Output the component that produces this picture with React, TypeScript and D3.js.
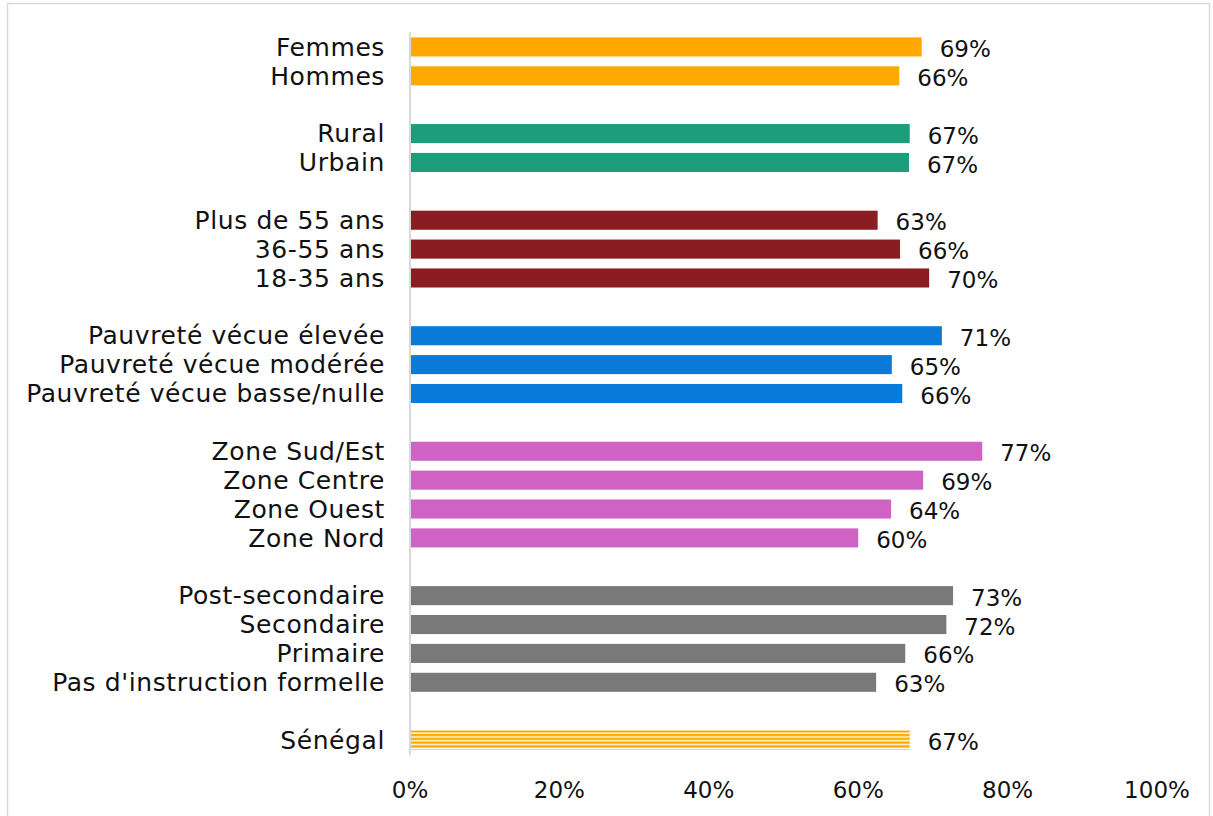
import React from "react";
import * as d3 from "d3";

const categories = [
  "Femmes", "Hommes", "",
  "Rural", "Urbain", " ",
  "Plus de 55 ans", "36-55 ans", "18-35 ans", "  ",
  "Pauvreté vécue élevée", "Pauvreté vécue modérée", "Pauvreté vécue basse/nulle", "   ",
  "Zone Sud/Est", "Zone Centre", "Zone Ouest", "Zone Nord", "    ",
  "Post-secondaire", "Secondaire", "Primaire", "Pas d'instruction formelle", "     ",
  "Sénégal",
];
const values: (number | null)[] = [
  68.5, 65.5, null,
  66.9, 66.8, null,
  62.6, 65.6, 69.5, null,
  71.2, 64.5, 65.9, null,
  76.6, 68.7, 64.4, 60.0, null,
  72.7, 71.8, 66.3, 62.4, null,
  66.9,
];
const labels = [
  "69%", "66%", "",
  "67%", "67%", "",
  "63%", "66%", "70%", "",
  "71%", "65%", "66%", "",
  "77%", "69%", "64%", "60%", "",
  "73%", "72%", "66%", "63%", "",
  "67%",
];
const groupColors = ["#FFA800", "#1C9E7C", "#8A1C22", "#0A7AD9", "#D062C4", "#797979", "url(#stripes)"];
const groupOf = [0, 0, -1, 1, 1, -1, 2, 2, 2, -1, 3, 3, 3, -1, 4, 4, 4, 4, -1, 5, 5, 5, 5, -1, 6];
const ticks = [0, 20, 40, 60, 80, 100];

export default function App() {
  const W = 1213, H = 816;
  const x = d3.scaleLinear().domain([0, 100]).range([410, 1157]);
  const y = d3.scaleBand().domain(categories).range([32.5, 754.5]).paddingInner(0.34).paddingOuter(0.17);
  const font = "'DejaVu Sans', sans-serif";
  const fs = 23;
  return (
    <svg width={W} height={H} style={{ position: "absolute", left: 0, top: 0 }}>
      <defs>
        <pattern id="stripes" patternUnits="userSpaceOnUse" width="8" height="3.8" y="0.5">
          <rect width="8" height="3.8" fill="#fff" />
          <rect width="8" height="2.4" fill="#FFA800" />
        </pattern>
      </defs>
      <rect x={0} y={0} width={W} height={H} fill="#fff" />
      <rect x={7.5} y={3.5} width={1202} height={820} fill="none" stroke="#D9D9D9" strokeWidth={1.5} />
      {categories.map((c, i) => {
        const v = values[i];
        if (v == null) return null;
        const yc = (y(c) as number) + y.bandwidth() / 2;
        return (
          <g key={i}>
            <rect x={x(0) + 1} y={y(c)} width={x(v) - x(0) - 1} height={y.bandwidth()} fill={groupColors[groupOf[i]]} />
            <text x={385} y={yc} dy="0.35em" textAnchor="end" fontFamily={font} fontSize={25} letterSpacing={0.6} fill="#111">{c}</text>
            <text x={x(v) + 18} y={yc + 2} dy="0.35em" textAnchor="start" fontFamily={font} fontSize={fs} fill="#111">{labels[i]}</text>
          </g>
        );
      })}
      <line x1={x(0)} x2={x(0)} y1={32} y2={755} stroke="#D9D9D9" strokeWidth={2} />
      {ticks.map((t) => (
        <text key={t} x={x(t)} y={790} dy="0.35em" textAnchor="middle" fontFamily={font} fontSize={fs} fill="#111">{t}%</text>
      ))}
    </svg>
  );
}
